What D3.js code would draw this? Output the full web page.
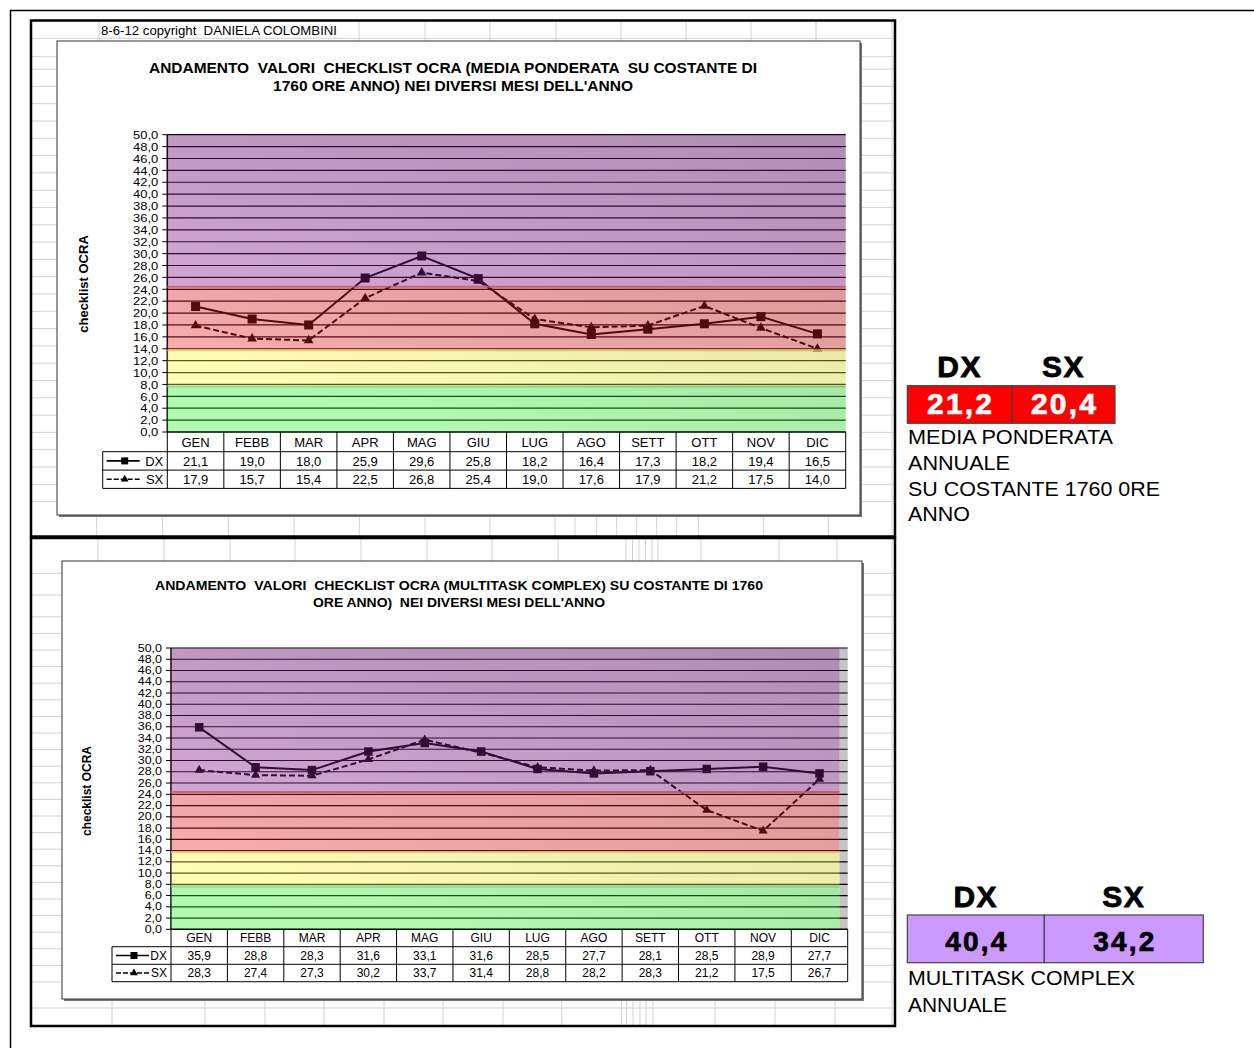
<!DOCTYPE html>
<html>
<head>
<meta charset="utf-8">
<script src="https://cdn.jsdelivr.net/npm/d3@7"></script>
<style>
  html, body { margin: 0; padding: 0; background: #fff; }
  svg { display: block; font-family: "Liberation Sans", Arial, sans-serif; }
  .pre { white-space: pre; }
</style>
</head>
<body>
<svg id="sheet" width="1254" height="1048"></svg>
<script>
// ---- data -------------------------------------------------------------
const months = ["GEN", "FEBB", "MAR", "APR", "MAG", "GIU", "LUG", "AGO", "SETT", "OTT", "NOV", "DIC"];
const seriesNames = ["DX", "SX"];

// weighted mean on 1760 h/year
const ponderataDX = [21.1, 19.0, 18.0, 25.9, 29.6, 25.8, 18.2, 16.4, 17.3, 18.2, 19.4, 16.5];
const ponderataSX = [17.9, 15.7, 15.4, 22.5, 26.8, 25.4, 19.0, 17.6, 17.9, 21.2, 17.5, 14.0];

// multitask complex on 1760 h/year
const multitaskDX = [35.9, 28.8, 28.3, 31.6, 33.1, 31.6, 28.5, 27.7, 28.1, 28.5, 28.9, 27.7];
const multitaskSX = [28.3, 27.4, 27.3, 30.2, 33.7, 31.4, 28.8, 28.2, 28.3, 21.2, 17.5, 26.7];

// yearly results
const annualPonderata = [21.2, 20.4];
const annualMultitask = [40.4, 34.2];

// OCRA risk bands (score limits) and axis ticks
const bandLimits = [0, 7.8, 13.9, 24.6, 50];
const yTickValues = [0, 2, 4, 6, 8, 10, 12, 14, 16, 18, 20, 22, 24, 26, 28, 30, 32, 34, 36, 38, 40, 42, 44, 46, 48, 50];

const titlePonderata = ["ANDAMENTO  VALORI  CHECKLIST OCRA (MEDIA PONDERATA  SU COSTANTE DI", "1760 ORE ANNO) NEI DIVERSI MESI DELL'ANNO"];
const titleMultitask = ["ANDAMENTO  VALORI  CHECKLIST OCRA (MULTITASK COMPLEX) SU COSTANTE DI 1760", "ORE ANNO)  NEI DIVERSI MESI DELL'ANNO"];
const notePonderata = ["MEDIA PONDERATA", "ANNUALE", "SU COSTANTE 1760 0RE", "ANNO"];
const noteMultitask = ["MULTITASK COMPLEX", "ANNUALE"];

// ---- styles -----------------------------------------------------------
// band tints laid over the plot (green, yellow, red, purple)
const bandTints = ["#2aee2a", "#fefe3c", "#f21e24", "#9a1ea0"];
const bandEdges = ["#8ad08a", "#f0c060", "#d05a7a", null];
const bandOpacity = 0.36;
const gridGray = "#d2d2d2";

const svg = d3.select("#sheet");
const defs = svg.append("defs");
const fmt = d3.formatLocale({ decimal: ",", thousands: ".", grouping: [3], currency: ["", "€"] }).format(".1f");

// page frame
svg.append("path").attr("d", "M10.5,1048 V10.5 H1254")
  .attr("fill", "none").attr("stroke", "#000").attr("stroke-width", 1.5);

// ---- spreadsheet blocks ----------------------------------------------
function drawSheetBlock(b) {
  const g = svg.append("g");
  g.append("rect").attr("x", b.x).attr("y", b.y).attr("width", b.w).attr("height", b.h).attr("fill", "#fff");
  const grid = g.append("g").attr("stroke", gridGray).attr("stroke-width", 1);
  b.rows.forEach(v => grid.append("line").attr("x1", b.x).attr("x2", b.x + b.w).attr("y1", v).attr("y2", v));
  b.topCols.forEach(v => grid.append("line").attr("x1", v).attr("x2", v).attr("y1", b.y).attr("y2", b.chart.y));
  b.bottomCols.forEach(v => grid.append("line").attr("x1", v).attr("x2", v)
    .attr("y1", b.chart.y + b.chart.h).attr("y2", b.y + b.h));
  b.sideCols.forEach(v => grid.append("line").attr("x1", v).attr("x2", v).attr("y1", b.y).attr("y2", b.y + b.h));
  // chart box with a small drop shadow
  g.append("rect").attr("x", b.chart.x + 2).attr("y", b.chart.y + 2)
    .attr("width", b.chart.w).attr("height", b.chart.h).attr("fill", "#777");
  g.append("rect").attr("x", b.chart.x).attr("y", b.chart.y)
    .attr("width", b.chart.w).attr("height", b.chart.h)
    .attr("fill", "#fff").attr("stroke", "#333").attr("stroke-width", 1);
  return g;
}

function blockBorder(b) {
  svg.append("rect").attr("x", b.x).attr("y", b.y).attr("width", b.w).attr("height", b.h)
    .attr("fill", "none").attr("stroke", "#000").attr("stroke-width", 2.5);
}

function rowsFrom(list, start, step, end) {
  const out = list.slice();
  for (let v = start; v < end; v += step) out.push(v);
  return out;
}

const topBlock = {
  x: 31, y: 20.5, w: 864, h: 516,
  chart: { x: 57, y: 41, w: 803, h: 474 },
  rows: rowsFrom([38.3, 56.7, 69.1, 86.4, 103.7, 121], 138.3, 17.3, 510),
  topCols: [99, 359, 425, 490, 556, 621, 686, 751, 816],
  bottomCols: [96.7, 162.7, 228.3, 294, 359.3, 425, 490, 555, 575, 596.7, 616.7, 636.7, 656.7, 676.7, 698.3, 763.3, 828.3],
  sideCols: [892]
};
const bottomBlock = {
  x: 31, y: 538, w: 864, h: 488,
  chart: { x: 62, y: 561, w: 800, h: 438 },
  rows: rowsFrom([573.3, 595, 616.8, 633.4], 650, 16.6, 995).concat([1008]),
  topCols: [98, 164, 230, 295, 361, 427, 492, 558, 626, 632.5, 639, 645.5, 652, 658, 701, 779, 837],
  bottomCols: [112, 205, 265, 324, 384, 443, 503, 561.7, 621.7, 626.7, 633, 640, 646, 653, 715, 775, 835],
  sideCols: [892]
};

// ---- chart ------------------------------------------------------------
function drawChart(g, cfg) {
  const x = d3.scaleBand().domain(months).range([cfg.plot.l, cfg.plot.r]);
  const y = d3.scaleLinear().domain([0, 50]).range([cfg.plot.b, cfg.plot.t]);
  const cx = m => x(m) + x.bandwidth() / 2;
  const pw = cfg.plot.r - cfg.plot.l;
  const bandR = cfg.bandRight || cfg.plot.r;

  // title
  cfg.title.forEach((t, i) => {
    g.append("text").attr("class", "pre")
      .attr("x", cfg.titleX).attr("y", cfg.titleY[i])
      .attr("text-anchor", "middle").attr("font-weight", "bold")
      .attr("font-size", cfg.titleSize)
      .attr("textLength", cfg.titleLen[i]).attr("lengthAdjust", "spacingAndGlyphs")
      .text(t);
  });

  // y axis title
  g.append("text")
    .attr("transform", `translate(${cfg.yTitle[0]},${cfg.yTitle[1]}) rotate(-90)`)
    .attr("text-anchor", "middle").attr("font-weight", "bold").attr("font-size", cfg.yTitleSize)
    .text("checklist OCRA");

  const plot = g.append("g");
  // plot area: grey where the band picture does not reach
  plot.append("rect").attr("x", cfg.plot.l).attr("y", cfg.plot.t)
    .attr("width", pw).attr("height", cfg.plot.b - cfg.plot.t).attr("fill", cfg.plotBg);
  plot.append("rect").attr("x", cfg.plot.l).attr("y", cfg.plot.t)
    .attr("width", bandR - cfg.plot.l).attr("height", cfg.plot.b - cfg.plot.t).attr("fill", "#fff");

  // gridlines and left axis line (tinted by the band layer)
  plot.append("g").selectAll("line").data(yTickValues.filter(v => v > 0)).join("line")
    .attr("x1", cfg.plot.l).attr("x2", cfg.plot.r)
    .attr("y1", d => y(d)).attr("y2", d => y(d))
    .attr("stroke", "#000").attr("stroke-width", 1.2);
  plot.append("line").attr("x1", cfg.plot.l).attr("x2", cfg.plot.l)
    .attr("y1", cfg.plot.t).attr("y2", cfg.plot.b).attr("stroke", "#000").attr("stroke-width", 1.5);

  // series
  const line = d3.line().x((d, i) => cx(months[i])).y(d => y(d));
  plot.append("path").datum(cfg.dx).attr("d", line)
    .attr("fill", "none").attr("stroke", cfg.lineColor).attr("stroke-width", 2);
  plot.append("path").datum(cfg.sx).attr("d", line)
    .attr("fill", "none").attr("stroke", cfg.lineColor).attr("stroke-width", 2)
    .attr("stroke-dasharray", "6,3");
  plot.append("g").selectAll("rect").data(cfg.dx).join("rect")
    .attr("x", (d, i) => cx(months[i]) - cfg.mark / 2).attr("y", d => y(d) - cfg.mark / 2)
    .attr("width", cfg.mark).attr("height", cfg.mark).attr("fill", cfg.lineColor);
  const tri = d3.symbol(d3.symbolTriangle, cfg.mark * cfg.mark * 0.5)();
  plot.append("g").selectAll("path").data(cfg.sx).join("path")
    .attr("d", tri)
    .attr("transform", (d, i) => `translate(${cx(months[i])},${y(d)})`)
    .attr("fill", cfg.lineColor);

  // risk bands laid over everything in the plot
  const bands = d3.range(bandLimits.length - 1).map(i => ({ from: bandLimits[i], to: bandLimits[i + 1], tint: bandTints[i], edge: bandEdges[i] }));
  plot.append("g").selectAll("rect").data(bands).join("rect")
    .attr("x", cfg.plot.l).attr("width", bandR - cfg.plot.l)
    .attr("y", d => y(d.to)).attr("height", d => y(d.from) - y(d.to))
    .attr("fill", d => d.tint).attr("fill-opacity", bandOpacity);
  // thin coloured rim on the top of each band
  plot.append("g").selectAll("line").data(bands.filter(d => d.edge)).join("line")
    .attr("x1", cfg.plot.l).attr("x2", bandR)
    .attr("y1", d => y(d.to) + 1).attr("y2", d => y(d.to) + 1)
    .attr("stroke", d => d.edge).attr("stroke-width", 2).attr("stroke-opacity", 0.8);

  // soft shading toward the upper right
  const gid = "shade" + cfg.id;
  const lg = defs.append("linearGradient").attr("id", gid)
    .attr("x1", 0.42).attr("y1", 1).attr("x2", 0.9).attr("y2", 0);
  lg.append("stop").attr("offset", 0).attr("stop-color", "#000").attr("stop-opacity", 0);
  lg.append("stop").attr("offset", 1).attr("stop-color", "#000").attr("stop-opacity", 0.19);
  plot.append("rect").attr("x", cfg.plot.l).attr("y", cfg.plot.t)
    .attr("width", bandR - cfg.plot.l).attr("height", cfg.plot.b - cfg.plot.t)
    .attr("fill", `url(#${gid})`);

  // y ticks and labels
  const ax = g.append("g");
  ax.selectAll("line").data(yTickValues).join("line")
    .attr("x1", cfg.plot.l - 5).attr("x2", cfg.plot.l)
    .attr("y1", d => y(d)).attr("y2", d => y(d)).attr("stroke", "#000");
  ax.selectAll("text").data(yTickValues).join("text")
    .attr("transform", d => `translate(${cfg.plot.l - 9},${y(d)}) scale(1,${cfg.tickSquash})`)
    .attr("dy", "0.36em")
    .attr("text-anchor", "end").attr("font-size", cfg.tickSize)
    .text(d => fmt(d));

  // data table under the plot
  const tb = g.append("g");
  const r0 = cfg.plot.b, r1 = r0 + cfg.rows[0], r2 = r1 + cfg.rows[1], r3 = r2 + cfg.rows[2];
  const edges = months.map(m => x(m)).concat([cfg.plot.r]);
  tb.selectAll("line.v").data(edges).join("line")
    .attr("x1", d => d).attr("x2", d => d).attr("y1", r0).attr("y2", r3)
    .attr("stroke", "#000");
  [r1, r2, r3].forEach(v => tb.append("line").attr("x1", cfg.legendLeft).attr("x2", cfg.plot.r)
    .attr("y1", v).attr("y2", v).attr("stroke", "#000"));
  tb.append("line").attr("x1", cfg.legendLeft).attr("x2", cfg.legendLeft)
    .attr("y1", r1).attr("y2", r3).attr("stroke", "#000");
  tb.append("line").attr("x1", cfg.plot.l).attr("x2", cfg.plot.r)
    .attr("y1", r0).attr("y2", r0).attr("stroke", "#000").attr("stroke-width", 1.5);

  const cell = (vals, yc) => tb.append("g").selectAll("text").data(vals).join("text")
    .attr("x", (d, i) => cx(months[i])).attr("y", yc).attr("dy", "0.36em")
    .attr("text-anchor", "middle").attr("font-size", cfg.tableSize).text(d => d);
  cell(months, (r0 + r1) / 2);
  cell(cfg.dx.map(fmt), (r1 + r2) / 2);
  cell(cfg.sx.map(fmt), (r2 + r3) / 2);

  // legend keys
  const keyL = cfg.legendLeft + 4, keyR = keyL + 33, keyC = keyL + 18;
  [[(r1 + r2) / 2, null, "rect"], [(r2 + r3) / 2, "5,2", "tri"]].forEach(([yc, dash, mk], i) => {
    tb.append("line").attr("x1", keyL).attr("x2", keyR).attr("y1", yc).attr("y2", yc)
      .attr("stroke", "#000").attr("stroke-width", 1.6).attr("stroke-dasharray", dash);
    if (mk === "rect") {
      tb.append("rect").attr("x", keyC - 3.5).attr("y", yc - 3.5).attr("width", 7).attr("height", 7).attr("fill", "#000");
    } else {
      tb.append("path").attr("d", d3.symbol(d3.symbolTriangle, 26)()).attr("transform", `translate(${keyC},${yc})`).attr("fill", "#000");
    }
    tb.append("text").attr("x", cfg.plot.l - 4).attr("y", yc).attr("dy", "0.36em")
      .attr("text-anchor", "end").attr("font-size", cfg.tableSize).text(seriesNames[i]);
  });
}

// ---- top block ---------------------------------------------------------
const gTop = drawSheetBlock(topBlock);
gTop.append("text").attr("class", "pre").attr("x", 101).attr("y", 35).attr("font-size", 13)
  .attr("textLength", 236).attr("lengthAdjust", "spacingAndGlyphs")
  .text("8-6-12 copyright  DANIELA COLOMBINI");
drawChart(gTop, {
  id: "A", dx: ponderataDX, sx: ponderataSX,
  plot: { l: 167.3, r: 845.7, t: 134.7, b: 432 },
  title: titlePonderata, titleX: 453, titleY: [73, 91], titleSize: 14.5, titleLen: [608, 360],
  yTitle: [88, 284], yTitleSize: 13,
  tickSize: 13, tickSquash: 0.9, tableSize: 13, rows: [19.7, 18.4, 18.3], legendLeft: 102.7,
  plotBg: "#fff", lineColor: "#000", mark: 9
});
blockBorder(topBlock);

// ---- bottom block ------------------------------------------------------
const gBot = drawSheetBlock(bottomBlock);
drawChart(gBot, {
  id: "B", dx: multitaskDX, sx: multitaskSX,
  plot: { l: 171, r: 847.7, t: 648, b: 929.3 },
  bandRight: 839.5,
  title: titleMultitask, titleX: 459, titleY: [590, 607], titleSize: 13.5, titleLen: [608, 292],
  yTitle: [91, 791], yTitleSize: 12,
  tickSize: 12.5, tickSquash: 0.8, tableSize: 12, rows: [17.4, 17.6, 17.4], legendLeft: 112,
  plotBg: "#c4c4c4", lineColor: "#000", mark: 8.5
});
blockBorder(bottomBlock);

// ---- yearly summary boxes ---------------------------------------------
function drawAnnual(cfg) {
  const g = svg.append("g");
  const cells = cfg.values.map((v, i) => ({ v, name: seriesNames[i], x0: cfg.edges[i], x1: cfg.edges[i + 1] }));
  g.selectAll("text.h").data(cells).join("text")
    .attr("x", d => (d.x0 + d.x1) / 2).attr("y", cfg.headY)
    .attr("text-anchor", "middle").attr("font-weight", "bold").attr("font-size", 30)
    .attr("letter-spacing", 1.5).attr("stroke", "#000").attr("stroke-width", 0.8)
    .text(d => d.name);
  g.selectAll("rect").data(cells).join("rect")
    .attr("x", d => d.x0).attr("y", cfg.boxY).attr("width", d => d.x1 - d.x0).attr("height", cfg.boxH)
    .attr("fill", cfg.fill).attr("stroke", "#444").attr("stroke-width", 1.2);
  g.selectAll("text.v").data(cells).join("text")
    .attr("x", d => (d.x0 + d.x1) / 2 + 1).attr("y", cfg.valY)
    .attr("text-anchor", "middle").attr("font-weight", "bold").attr("font-size", cfg.valSize)
    .attr("letter-spacing", 2.2).attr("fill", cfg.valColor)
    .attr("stroke", cfg.valColor).attr("stroke-width", 0.7)
    .text(d => fmt(d.v));
  cfg.note.forEach((t, i) => {
    g.append("text").attr("class", "pre").attr("x", 908).attr("y", cfg.noteY[i])
      .attr("font-size", 20).attr("textLength", cfg.noteLen[i]).attr("lengthAdjust", "spacingAndGlyphs")
      .text(t);
  });
}

drawAnnual({
  values: annualPonderata, edges: [907.3, 1012, 1115],
  headY: 377, boxY: 385.7, boxH: 37.6, fill: "#ff0000",
  valY: 414, valSize: 30, valColor: "#fff",
  note: notePonderata, noteY: [443.5, 469.5, 495.5, 520.5], noteLen: [205, 102, 252, 62]
});
drawAnnual({
  values: annualMultitask, edges: [907.3, 1044.3, 1203.3],
  headY: 907, boxY: 915, boxH: 47.7, fill: "#cc99ff",
  valY: 951, valSize: 28, valColor: "#000",
  note: noteMultitask, noteY: [985, 1012], noteLen: [227, 99]
});
</script>
</body>
</html>
